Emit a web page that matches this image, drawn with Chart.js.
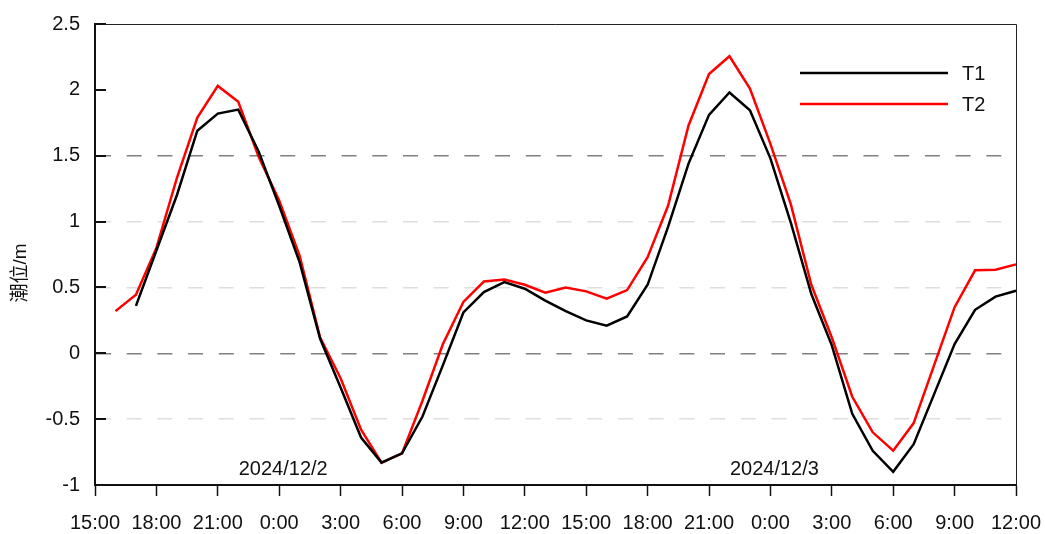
<!DOCTYPE html>
<html>
<head>
<meta charset="utf-8">
<script src="https://cdn.jsdelivr.net/npm/chart.js@4"></script>
<style>
  body { margin: 0; background: #fff; }
  canvas { display: block; }
</style>
</head>
<body>
<canvas id="grafico" width="1045" height="534"></canvas>
<script>
// Horas (15:00 de 2024/12/1 ate 12:00 de 2024/12/3)
const horas = [
    '15:00', '16:00', '17:00', '18:00', '19:00', '20:00', '21:00', '22:00', '23:00',
    '0:00', '1:00', '2:00', '3:00', '4:00', '5:00', '6:00', '7:00', '8:00', '9:00',
    '10:00', '11:00', '12:00', '13:00', '14:00', '15:00', '16:00', '17:00', '18:00',
    '19:00', '20:00', '21:00', '22:00', '23:00',
    '0:00', '1:00', '2:00', '3:00', '4:00', '5:00', '6:00', '7:00', '8:00', '9:00',
    '10:00', '11:00', '12:00'
];

// Nivel da mare (m)
const t1 = [
    null, null, 0.36, 0.78, 1.2, 1.69, 1.82, 1.85, 1.53,
    1.12, 0.69, 0.11, -0.26, -0.64, -0.83, -0.76, -0.48, -0.09, 0.31,
    0.465, 0.54, 0.49, 0.40, 0.32, 0.25, 0.21, 0.28, 0.52,
    0.96, 1.44, 1.81, 1.98, 1.845,
    1.48, 0.99, 0.45, 0.06, -0.46, -0.74, -0.9, -0.69, -0.31, 0.07,
    0.33, 0.43, 0.475
];
const t2 = [
    null, 0.32, 0.445, 0.80, 1.33, 1.79, 2.03, 1.91, 1.49,
    1.16, 0.74, 0.12, -0.19, -0.58, -0.83, -0.76, -0.36, 0.07, 0.39,
    0.545, 0.56, 0.52, 0.46, 0.50, 0.47, 0.415, 0.48, 0.73,
    1.12, 1.73, 2.12, 2.255, 2.01,
    1.59, 1.13, 0.52, 0.12, -0.33, -0.6, -0.74, -0.53, -0.09, 0.35,
    0.63, 0.635, 0.675
];

// Datas escritas dentro do grafico, na meia-noite de cada dia
const datas = ['2024/12/2', '2024/12/3'];
const indiceDatas = [9, 33];
const alturaDatas = -0.88;

const tituloY = '潮位/m';
const fonte = 'Liberation Sans, Arial, sans-serif';

// moldura superior/direita, ticks internos do eixo y, titulo, datas e legenda
const extras = {
    id: 'extras',
    afterDraw(chart) {
        const ctx = chart.ctx;
        const area = chart.chartArea;
        const x = chart.scales.x;
        const y = chart.scales.y;
        ctx.save();

        ctx.strokeStyle = '#222';
        ctx.lineWidth = 1;
        ctx.beginPath();
        ctx.moveTo(area.left, area.top + 0.5);
        ctx.lineTo(area.right + 0.5, area.top + 0.5);
        ctx.lineTo(area.right + 0.5, area.bottom);
        ctx.stroke();

        ctx.lineWidth = 2;
        ctx.strokeStyle = '#111';
        y.ticks.forEach(t => {
            const py = Math.round(y.getPixelForValue(t.value));
            ctx.beginPath();
            ctx.moveTo(area.left, py);
            ctx.lineTo(area.left + 11, py);
            ctx.stroke();
        });

        ctx.fillStyle = '#111';
        ctx.font = '20px ' + fonte;
        ctx.textAlign = 'center';
        ctx.textBaseline = 'middle';
        datas.forEach((d, i) => {
            ctx.fillText(d, x.getPixelForValue(indiceDatas[i]) + 4, y.getPixelForValue(alturaDatas));
        });

        // titulo do eixo y
        ctx.save();
        ctx.translate(21, 273);
        ctx.rotate(-Math.PI / 2);
        ctx.font = '19px Liberation Sans, "Noto Sans CJK SC", sans-serif';
        ctx.fillText(tituloY, 0, 0);
        ctx.restore();

        // legenda
        const itens = chart.data.datasets;
        ctx.textAlign = 'left';
        itens.forEach((ds, i) => {
            const ly = 73 + i * 31;
            ctx.strokeStyle = ds.borderColor;
            ctx.lineWidth = 2.5;
            ctx.beginPath();
            ctx.moveTo(800, ly);
            ctx.lineTo(948, ly);
            ctx.stroke();
            ctx.fillStyle = '#111';
            ctx.fillText(ds.label, 962, ly + 1);
        });
        ctx.restore();
    }
};

new Chart(document.querySelector('#grafico'), {
    type: 'line',
    data: {
        labels: horas,
        datasets: [
            {label: 'T1', data: t1, borderColor: '#000000', backgroundColor: '#000000'},
            {label: 'T2', data: t2, borderColor: '#ff0000', backgroundColor: '#ff0000'}
        ]
    },
    options: {
        responsive: false,
        animation: false,
        layout: {padding: {top: 24, right: 29, left: 0, bottom: 0}},
        elements: {
            point: {radius: 0},
            line: {tension: 0, borderWidth: 2.5}
        },
        plugins: {
            legend: {display: false},
            tooltip: {enabled: false}
        },
        scales: {
            x: {
                type: 'category',
                offset: false,
                grid: {drawOnChartArea: false, drawTicks: true, tickLength: 11, tickColor: '#111', tickWidth: 1.5},
                border: {color: '#111', width: 2},
                ticks: {
                    autoSkip: false,
                    maxRotation: 0,
                    padding: 15,
                    color: '#111',
                    font: {family: fonte, size: 20},
                    callback: function (value, index) {
                        return index % 3 === 0 ? this.getLabelForValue(value) : null;
                    }
                },
                afterFit: s => {
                    s.height = 49;
                    s.paddingLeft = 0;
                    s.paddingRight = 0;
                }
            },
            y: {
                min: -1,
                max: 2.5,
                ticks: {
                    stepSize: 0.5,
                    padding: 15,
                    color: '#111',
                    font: {family: fonte, size: 20},
                    callback: value => String(Number(value.toFixed(1)))
                },
                grid: {
                    drawTicks: false,
                    lineWidth: 1.5,
                    color: c => {
                        const v = c.tick.value;
                        if (v === 0 || v === 1.5) return '#808080';
                        if (v === -0.5 || v === 0.5 || v === 1) return '#dedede';
                        return 'rgba(0,0,0,0)';
                    }
                },
                border: {color: '#111', width: 2, dash: [15, 15.7]},
                afterFit: s => {
                    s.width = 95;
                    s.paddingTop = 0;
                    s.paddingBottom = 0;
                }
            }
        }
    },
    plugins: [extras]
});
</script>
</body>
</html>
